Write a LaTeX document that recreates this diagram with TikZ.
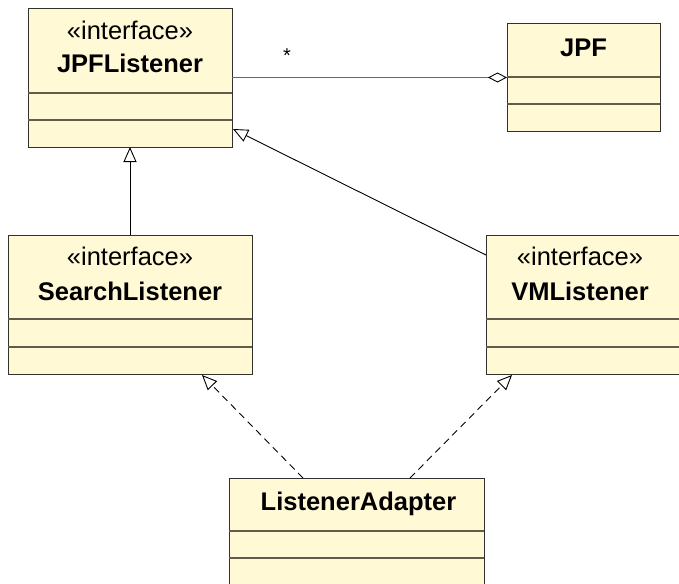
\documentclass[tikz,border=0pt]{standalone}
\usepackage{fontspec}
\setmainfont{Liberation Sans}
\usetikzlibrary{arrows.meta,calc}
\definecolor{classfill}{RGB}{255,249,214}
\definecolor{classedge}{RGB}{50,50,45}
\definecolor{compline}{RGB}{95,92,75}
\definecolor{assocline}{RGB}{105,105,105}
\tikzset{
  cls/.style={draw=classedge, fill=classfill, line width=1pt, rectangle,
              inner sep=0pt, outer sep=0pt, anchor=north west},
  sep/.style={draw=compline, line width=1.3pt},
  stereo/.style={anchor=base, inner sep=0pt, font=\fontsize{25.5}{28}\selectfont},
  cname/.style={anchor=base, inner sep=0pt, font=\fontsize{25.5}{28}\selectfont\bfseries},
  generalize/.style={draw=black, line width=0.9pt,
              -{Triangle[open, length=15pt, width=13pt, line width=0.9pt]}},
  realize/.style={generalize, dash pattern=on 7pt off 5pt},
  aggregate/.style={draw=assocline, line width=1.3pt,
              -{Diamond[open, length=19pt, width=10pt, line width=0.9pt, color=black]}},
}
\begin{document}
\begin{tikzpicture}[x=1pt, y=-1pt]
\useasboundingbox (0,0) rectangle (679,583);

% class boxes
\node[cls, minimum width=204pt, minimum height=138pt] (JL) at (28,9) {};
\node[cls, minimum width=153pt, minimum height=107pt] (JPF) at (507,24) {};
\node[cls, minimum width=244pt, minimum height=139pt] (SL) at (8,235) {};
\node[cls, minimum width=196pt, minimum height=139pt] (VL) at (486,235) {};
\node[cls, minimum width=255pt, minimum height=107pt] (LA) at (229,478) {};

% compartment separators
\foreach \n/\a/\b in {JL/84/111, JPF/53/80, SL/84/112, VL/84/112, LA/53/80}{
  \draw[sep] ([yshift=-\a pt]\n.north west) -- ([yshift=-\a pt]\n.north east);
  \draw[sep] ([yshift=-\b pt]\n.north west) -- ([yshift=-\b pt]\n.north east);
}

% names and stereotypes
\node[stereo] (JLs) at ([yshift=-31pt]JL.north) {«interface»};
\node[cname]  (JLn) at ([yshift=-64pt]JL.north) {JPFListener};
\node[cname]  (JPFn) at ([yshift=-33pt]JPF.north) {JPF};
\node[stereo] (SLs) at ([yshift=-30pt]SL.north) {«interface»};
\node[cname]  (SLn) at ([yshift=-65pt]SL.north) {SearchListener};
\node[stereo] (VLs) at ([xshift=-4pt,yshift=-30pt]VL.north) {«interface»};
\node[cname]  (VLn) at ([xshift=-4pt,yshift=-65pt]VL.north) {VMListener};
\node[cname]  (LAn) at ([xshift=2pt,yshift=-32pt]LA.north) {ListenerAdapter};

% association JPFListener -- JPF (horizontal)
\coordinate (assocEnd) at ([yshift=-53.5pt]JPF.north west);
\draw[aggregate] (JL.east |- assocEnd) -- (assocEnd);
\node[inner sep=0pt, font=\fontsize{20}{22}\selectfont] (mult) at (287,56) {*};

% generalizations
\draw[generalize] (SL.north) -- (JL.south);
\draw[generalize] ([yshift=-20pt]VL.north west) -- ([xshift=1pt,yshift=18pt]JL.south east);

% realizations
\draw[realize] ([xshift=74pt]LA.north west) -- ([xshift=194pt,yshift=-1pt]SL.south west);
\draw[realize] ([xshift=181pt]LA.north west) -- ([xshift=26pt,yshift=-1pt]VL.south west);
\end{tikzpicture}
\end{document}
